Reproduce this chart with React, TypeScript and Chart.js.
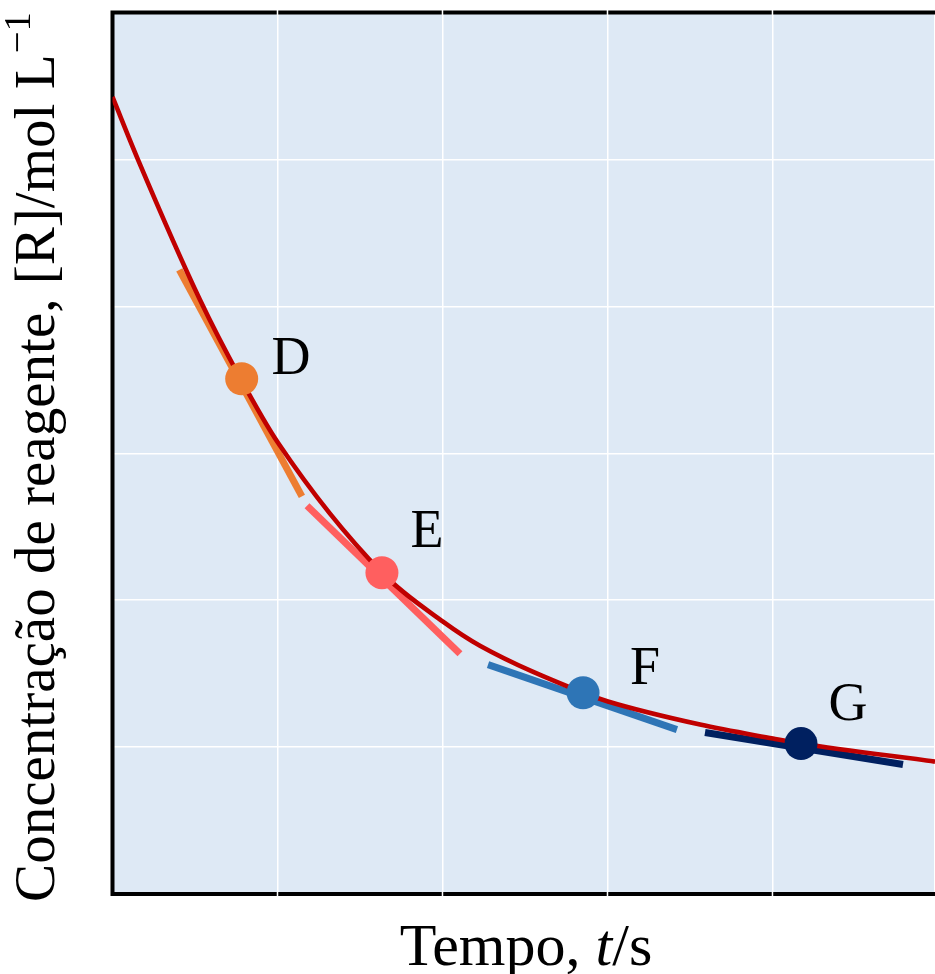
import React, { useEffect, useRef } from "react";
import { Chart, registerables } from "chart.js";

Chart.register(...registerables);

// Reaction curve: time t (s) vs reagent concentration [R] (mol/L)
const curveT = [0, 0.155, 0.53, 0.773, 1.003, 1.633, 2.003, 2.227, 2.852, 3.003, 3.561, 4.003, 4.173, 4.985];
const curveC = [5.425, 4.997, 4.045, 3.514, 3.071, 2.187, 1.854, 1.69, 1.37, 1.31, 1.153, 1.058, 1.024, 0.901];

// Marked points
const pointNames = ["D", "E", "F", "G"];
const pointT = [0.783, 1.633, 2.852, 4.173];
const pointC = [3.507, 2.187, 1.37, 1.024];
const pointColors = ["#ed7d31", "#ff5f5f", "#2e75b6", "#002060"];

// Tangent segments
const tangentStartT = [0.405, 1.179, 2.276, 3.591];
const tangentStartC = [4.248, 2.643, 1.561, 1.099];
const tangentEndT = [1.148, 2.106, 3.421, 4.791];
const tangentEndC = [2.706, 1.636, 1.119, 0.881];

// Label anchors (centre of the letter)
const labelT = [1.082, 1.906, 3.227, 4.458];
const labelC = [3.663, 2.48, 1.554, 1.303];

const xMin = 0;
const xMax = 4.985;
const yMin = 0;
const yMax = 6;

const FONT = '"Liberation Serif", "Times New Roman", serif';

const decorPlugin = {
  id: "decor",
  beforeDraw(chart: any) {
    const { ctx, chartArea } = chart;
    ctx.save();
    ctx.fillStyle = "#dee9f5";
    ctx.fillRect(chartArea.left, chartArea.top, chart.width - chartArea.left, chartArea.bottom - chartArea.top);
    ctx.restore();
  },
  beforeDatasetsDraw(chart: any) {
    const { ctx, chartArea, scales } = chart;
    const { left, top, bottom } = chartArea;
    const right = chart.width + 10;
    ctx.save();
    ctx.strokeStyle = "#000";
    ctx.lineWidth = 4;
    ctx.lineJoin = "miter";
    ctx.beginPath();
    ctx.moveTo(right, top);
    ctx.lineTo(left, top);
    ctx.lineTo(left, bottom);
    ctx.lineTo(right, bottom);
    ctx.stroke();
    // grid lines run through the frame
    ctx.strokeStyle = "#ffffff";
    ctx.lineWidth = 1.5;
    for (let v = 1; v <= 4; v++) {
      const px = scales.x.getPixelForValue(v);
      ctx.beginPath();
      ctx.moveTo(px, top - 2.5);
      ctx.lineTo(px, top + 2.5);
      ctx.moveTo(px, bottom - 2.5);
      ctx.lineTo(px, bottom + 2.5);
      ctx.stroke();
    }
    ctx.restore();
  },
  afterDatasetsDraw(chart: any) {
    const { ctx, scales } = chart;
    ctx.save();
    ctx.fillStyle = "#000";
    // point labels
    const lf = 54;
    ctx.font = `${lf}px ${FONT}`;
    ctx.textAlign = "center";
    ctx.textBaseline = "alphabetic";
    for (let i = 0; i < pointNames.length; i++) {
      const px = scales.x.getPixelForValue(labelT[i]);
      const py = scales.y.getPixelForValue(labelC[i]);
      ctx.fillText(pointNames[i], px, py + lf * 0.33);
    }

    // x-axis title: "Tempo, t/s"
    const xParts: [string, boolean][] = [["Tempo, ", false], ["t", true], ["/s", false]];
    const measure = (size: number, parts: [string, boolean][]) => {
      let w = 0;
      for (const [s, it] of parts) {
        ctx.font = `${it ? "italic " : ""}${size}px ${FONT}`;
        w += ctx.measureText(s).width;
      }
      return w;
    };
    let xs = 54;
    const wx = measure(xs, xParts);
    xs = Math.min(60, (xs * 258) / wx);
    const totalX = measure(xs, xParts);
    let cx = 526 - totalX / 2;
    ctx.textAlign = "left";
    for (const [s, it] of xParts) {
      ctx.font = `${it ? "italic " : ""}${xs}px ${FONT}`;
      ctx.fillText(s, cx, 965);
      cx += ctx.measureText(s).width;
    }

    // y-axis title
    const main = "Concentração de reagente, [R]/mol L";
    const sup = "\u22121";
    let ys = 54;
    const measureY = (size: number) => {
      ctx.font = `${size}px ${FONT}`;
      const w1 = ctx.measureText(main).width;
      ctx.font = `${size * 0.68}px ${FONT}`;
      const w2 = ctx.measureText(sup).width;
      return { w1, w2, total: w1 + w2 + size * 0.02 };
    };
    const m0 = measureY(ys);
    ys = Math.min(60, (ys * 890) / m0.total);
    const m = measureY(ys);
    ctx.translate(54, 457);
    ctx.rotate(-Math.PI / 2);
    ctx.font = `${ys}px ${FONT}`;
    ctx.fillText(main, -m.total / 2, 0);
    ctx.font = `${ys * 0.68}px ${FONT}`;
    ctx.fillText(sup, -m.total / 2 + m.w1 + ys * 0.02, -ys * 0.42);
    ctx.restore();
  },
};

export default function App() {
  const canvasRef = useRef<HTMLCanvasElement | null>(null);

  useEffect(() => {
    const canvas = canvasRef.current;
    if (!canvas) return;

    const curveData = curveT.map((t, i) => ({ x: t, y: curveC[i] }));
    const tangentSets = pointNames.map((name, i) => ({
      label: `tangent ${name}`,
      data: [
        { x: tangentStartT[i], y: tangentStartC[i] },
        { x: tangentEndT[i], y: tangentEndC[i] },
      ],
      showLine: true,
      borderColor: pointColors[i],
      borderWidth: 7,
      borderCapStyle: "butt" as const,
      pointRadius: 0,
      order: 3,
    }));

    const chart = new Chart(canvas, {
      type: "scatter",
      data: {
        datasets: [
          ...tangentSets,
          {
            label: "[R]",
            data: curveData,
            showLine: true,
            borderColor: "#c00000",
            borderWidth: 4.6,
            cubicInterpolationMode: "monotone",
            pointRadius: 0,
            order: 2,
          },
          {
            label: "points",
            data: pointT.map((t, i) => ({ x: t, y: pointC[i] })),
            showLine: false,
            pointRadius: 16.5,
            pointHoverRadius: 16.5,
            pointBackgroundColor: pointColors,
            pointBorderWidth: 0,
            borderWidth: 0,
            order: 1,
          },
        ],
      },
      options: {
        responsive: false,
        animation: false,
        devicePixelRatio: 1,
        events: [],
        layout: { autoPadding: false, padding: { top: 12.5, right: 0, left: 0, bottom: 0 } },
        plugins: {
          legend: { display: false },
          tooltip: { enabled: false },
        },
        scales: {
          x: {
            type: "linear",
            min: xMin,
            max: xMax,
            ticks: { display: false, stepSize: 1 },
            grid: { color: "#ffffff", lineWidth: 1.5, drawTicks: false },
            border: { display: false },
            afterFit: (s: any) => {
              s.height = 80;
              s.paddingLeft = 0;
              s.paddingRight = 0;
            },
          },
          y: {
            type: "linear",
            min: yMin,
            max: yMax,
            ticks: { display: false, stepSize: 1 },
            grid: { color: "#ffffff", lineWidth: 1.5, drawTicks: false },
            border: { display: false },
            afterFit: (s: any) => {
              s.width = 112.5;
              s.paddingTop = 0;
              s.paddingBottom = 0;
            },
          },
        },
      },
      plugins: [decorPlugin],
    });

    return () => chart.destroy();
  }, []);

  return (
    <div style={{ position: "absolute", left: 0, top: 0, width: 935, height: 974, overflow: "hidden", background: "#fff" }}>
      <canvas ref={canvasRef} width={935} height={974} style={{ display: "block", width: 935, height: 974 }} />
    </div>
  );
}
